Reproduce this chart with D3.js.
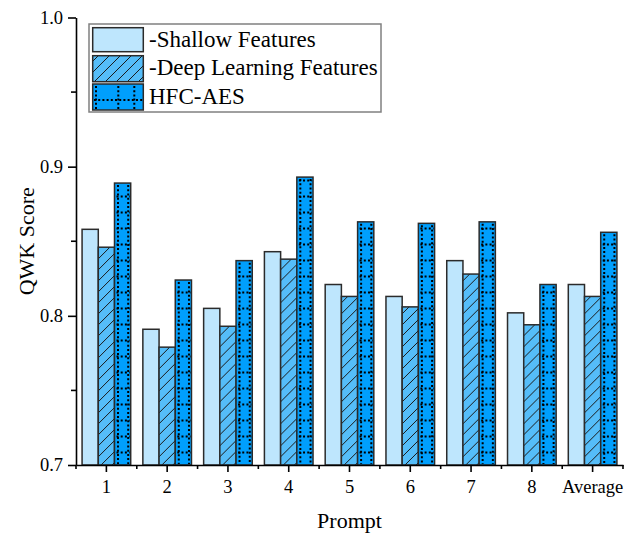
<!DOCTYPE html>
<html>
<head>
<meta charset="utf-8">
<script src="https://cdn.jsdelivr.net/npm/d3@7"></script>
<style>
  html, body { margin: 0; padding: 0; background: #fff; }
  svg { display: block; font-family: "Liberation Serif", "Times New Roman", serif; }
</style>
</head>
<body>
<svg id="chart" width="624" height="535"></svg>
<script>
const categories = ["1", "2", "3", "4", "5", "6", "7", "8", "Average"];
const seriesNames = ["-Shallow Features", "-Deep Learning Features", "HFC-AES"];
const shallowValues = [0.858, 0.791, 0.805, 0.843, 0.821, 0.813, 0.837, 0.802, 0.821];
const deepValues    = [0.846, 0.779, 0.793, 0.838, 0.813, 0.806, 0.828, 0.794, 0.813];
const hfcValues     = [0.889, 0.824, 0.837, 0.893, 0.863, 0.862, 0.863, 0.821, 0.856];
const yMajorTicks = [0.7, 0.8, 0.9, 1.0];
const yMinorTicks = [0.75, 0.85, 0.95];
const seriesColors = ["#bee6fd", "#55bdf9", "#009ffd"];

const svg = d3.select("#chart");
const pLeft = 76, pRight = 623, pTop = 17.5, pBottom = 465;

const x = d3.scaleBand().domain(categories).range([pLeft, pRight]).paddingInner(0.2).paddingOuter(0.1);
const xs = d3.scaleBand().domain(d3.range(3)).range([0, x.bandwidth()]);
const y = d3.scaleLinear().domain([0.7, 1.0]).range([pBottom, pTop]);

const defs = svg.append("defs");
const hatch = defs.append("pattern").attr("id", "hatch")
  .attr("patternUnits", "userSpaceOnUse").attr("width", 11).attr("height", 11);
hatch.append("rect").attr("width", 11).attr("height", 11).attr("fill", seriesColors[1]);
hatch.append("path").attr("d", "M0,11 L11,0 M-2,2 L2,-2 M9,13 L13,9")
  .attr("stroke", "#1a1a1a").attr("stroke-width", 1);

const data = categories.map((c, i) => ({ cat: c, vals: [shallowValues[i], deepValues[i], hfcValues[i]] }));
const fills = [seriesColors[0], "url(#hatch)", seriesColors[2]];

const groups = svg.append("g").selectAll("g").data(data).join("g")
  .attr("transform", d => `translate(${x(d.cat)},0)`);

groups.selectAll("rect").data(d => d.vals.map((v, k) => ({ v, k }))).join("rect")
  .attr("x", d => xs(d.k)).attr("width", xs.bandwidth())
  .attr("y", d => y(d.v)).attr("height", d => y(0.7) - y(d.v))
  .attr("fill", d => fills[d.k]).attr("stroke", "#2b2b2b").attr("stroke-width", 1.5);

// dotted grid inside HFC-AES bars
groups.each(function(d) {
  const g = d3.select(this);
  const bx = xs(2), bw = xs.bandwidth(), yt = y(d.vals[2]);
  const lines = [];
  [bx + 3.5, bx + bw - 2.5].forEach(vx => lines.push([vx, yt + 2, vx, pBottom - 1]));
  for (let ry = pBottom - 12.5; ry > yt + 3; ry -= 16) lines.push([bx + 2, ry, bx + bw - 1, ry]);
  g.selectAll("line.dot").data(lines).join("line").attr("class", "dot")
    .attr("x1", l => l[0]).attr("y1", l => l[1]).attr("x2", l => l[2]).attr("y2", l => l[3])
    .attr("stroke", "#000").attr("stroke-width", 2).attr("stroke-dasharray", "2,2.2");
});

// Y axis
const yAxis = svg.append("g").attr("transform", `translate(${pLeft},0)`)
  .call(d3.axisLeft(y).tickValues(yMajorTicks).tickFormat(d3.format(".1f")).tickSize(8).tickPadding(5).tickSizeOuter(0));
yAxis.selectAll("text").attr("font-size", 18.5).attr("font-family", "Liberation Serif").attr("fill", "#000");
yAxis.selectAll("line, path").attr("stroke", "#000").attr("stroke-width", 1.6);
svg.append("g").selectAll("line").data(yMinorTicks).join("line")
  .attr("x1", pLeft - 5).attr("x2", pLeft).attr("y1", d => y(d)).attr("y2", d => y(d))
  .attr("stroke", "#000").attr("stroke-width", 1.6);

// X axis
const xAxis = svg.append("g").attr("transform", `translate(0,${pBottom})`)
  .call(d3.axisBottom(x).tickSize(7).tickPadding(8).tickSizeOuter(0));
xAxis.selectAll("text").attr("font-size", 18.5).attr("font-family", "Liberation Serif").attr("fill", "#000");
xAxis.selectAll("line, path").attr("stroke", "#000").attr("stroke-width", 1.6);
const bounds = d3.range(categories.length + 1).map(k => pLeft + k * x.step());
svg.append("g").selectAll("line").data(bounds).join("line")
  .attr("x1", d => d).attr("x2", d => d).attr("y1", pBottom).attr("y2", pBottom + 4)
  .attr("stroke", "#000").attr("stroke-width", 1.6);

// Axis titles
svg.append("text").attr("x", (pLeft + pRight) / 2).attr("y", 528).attr("text-anchor", "middle")
  .attr("font-size", 22).text("Prompt");
svg.append("text").attr("transform", `translate(34,${(pTop + pBottom) / 2}) rotate(-90)`)
  .attr("text-anchor", "middle").attr("font-size", 22).text("QWK Score");

// Legend
const leg = svg.append("g");
leg.append("rect").attr("x", 89).attr("y", 24).attr("width", 292).attr("height", 88)
  .attr("fill", "#fff").attr("stroke", "#808080").attr("stroke-width", 1.5);
const rowY = [27.7, 55.7, 84];
const patchH = [24, 26, 26];
seriesNames.forEach((name, k) => {
  const py = rowY[k];
  leg.append("rect").attr("x", 92.7).attr("y", py).attr("width", 50.6).attr("height", patchH[k])
    .attr("fill", fills[k]).attr("stroke", "#2b2b2b").attr("stroke-width", 1.5);
  if (k === 2) {
    [96, 118.3, 134.3].forEach(vx => leg.append("line").attr("x1", vx).attr("x2", vx)
      .attr("y1", py + 2).attr("y2", py + patchH[k] - 1)
      .attr("stroke", "#000").attr("stroke-width", 2).attr("stroke-dasharray", "2,2.2"));
    leg.append("line").attr("x1", 94).attr("x2", 142.5).attr("y1", py + 16).attr("y2", py + 16)
      .attr("stroke", "#000").attr("stroke-width", 2).attr("stroke-dasharray", "2,2.2");
  }
  leg.append("text").attr("x", 149).attr("y", py + 19.5).attr("font-size", 23).text(name);
});
</script>
</body>
</html>
